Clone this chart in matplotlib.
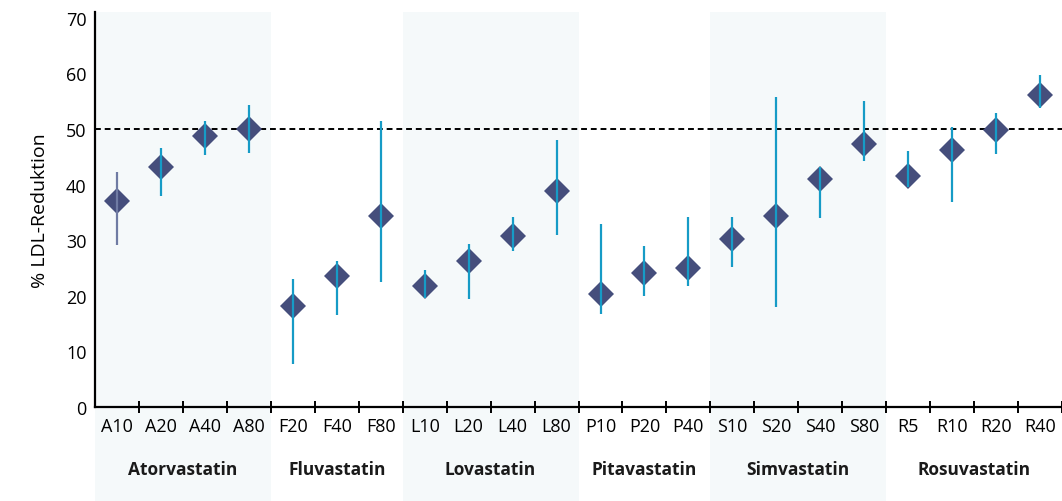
import matplotlib
matplotlib.use("Agg")
import matplotlib.pyplot as plt
import matplotlib.transforms as mtransforms
from matplotlib.patches import Rectangle
import numpy as np

# Daten
doses = ["A10", "A20", "A40", "A80", "F20", "F40", "F80",
         "L10", "L20", "L40", "L80", "P10", "P20", "P40",
         "S10", "S20", "S40", "S80", "R5", "R10", "R20", "R40"]
mean = [37.1, 43.2, 48.8, 50.0, 18.2, 23.6, 34.4,
        21.8, 26.3, 30.8, 38.9, 20.3, 24.1, 25.0,
        30.2, 34.4, 41.0, 47.2, 41.6, 46.2, 49.8, 56.1]
upper = [42.3, 46.6, 51.5, 54.3, 23.0, 26.3, 51.5,
         24.7, 29.3, 34.2, 48.0, 32.9, 29.0, 34.2,
         34.2, 55.8, 43.2, 55.1, 46.1, 50.4, 52.9, 59.7]
lower = [29.2, 38.0, 45.4, 45.7, 7.7, 16.6, 22.5,
         19.6, 19.4, 28.1, 31.0, 16.7, 20.0, 21.8,
         25.2, 18.0, 34.0, 44.3, 39.6, 36.9, 45.5, 53.8]
groups = ["Atorvastatin", "Fluvastatin", "Lovastatin", "Pitavastatin", "Simvastatin", "Rosuvastatin"]
group_size = [4, 3, 4, 3, 4, 4]
shaded = [True, False, True, False, True, False]

# Farben
col_diamond = "#454e7c"
col_err = "#169bc6"
col_band = "#f5f9fa"

plt.rcParams["font.family"] = ["Open Sans", "DejaVu Sans"]

fig = plt.figure(figsize=(10.62, 5.02), dpi=100)
ax = fig.add_axes([0.0895, 0.187, 0.9105, 0.787])

n = len(doses)
x = np.arange(n) + 0.5
ax.set_xlim(0, n)
ax.set_ylim(0, 71)

# Hintergrundbänder, bis unter die Achse gezogen
trans = mtransforms.blended_transform_factory(ax.transData, ax.transAxes)
start = 0
for g, size, sh in zip(groups, group_size, shaded):
    if sh:
        ax.add_patch(Rectangle((start, -0.5), size, 1.5, transform=trans,
                               facecolor=col_band, edgecolor="none", clip_on=False, zorder=0))
    ax.text(start + size / 2, -0.157, g, transform=trans, ha="center", va="center",
            fontsize=12.5, fontweight="bold", color="#1a1a1a")
    start += size

# 50 % Linie
ax.axhline(50, color="black", lw=1.4, ls=(0, (3, 2)), zorder=1)

# Fehlerbalken und Rauten
err_colors = [col_err] * n
err_colors[0] = "#6f7ba3"
ax.plot(x, mean, "D", color=col_diamond, markersize=13.5, markeredgewidth=0, zorder=3)
ax.vlines(x, lower, upper, colors=err_colors, lw=1.6, zorder=4)

# Achsen
for s in ["top", "right"]:
    ax.spines[s].set_visible(False)
ax.spines["left"].set_linewidth(1.6)
ax.spines["bottom"].set_linewidth(1.6)

ax.set_yticks(np.arange(0, 71, 10))
ax.tick_params(axis="y", length=0, labelsize=13, pad=6)
ax.set_xticks(np.arange(1, n + 1))
ax.set_xticklabels([])
ax.tick_params(axis="x", which="major", direction="inout", length=9, width=1.4)
ax.set_xticks(x, minor=True)
ax.set_xticklabels(doses, minor=True)
ax.tick_params(axis="x", which="minor", length=0, labelsize=13, pad=7)

ax.set_ylabel("% LDL-Reduktion", fontsize=14, labelpad=12)

fig.savefig("out.png", dpi=100)
